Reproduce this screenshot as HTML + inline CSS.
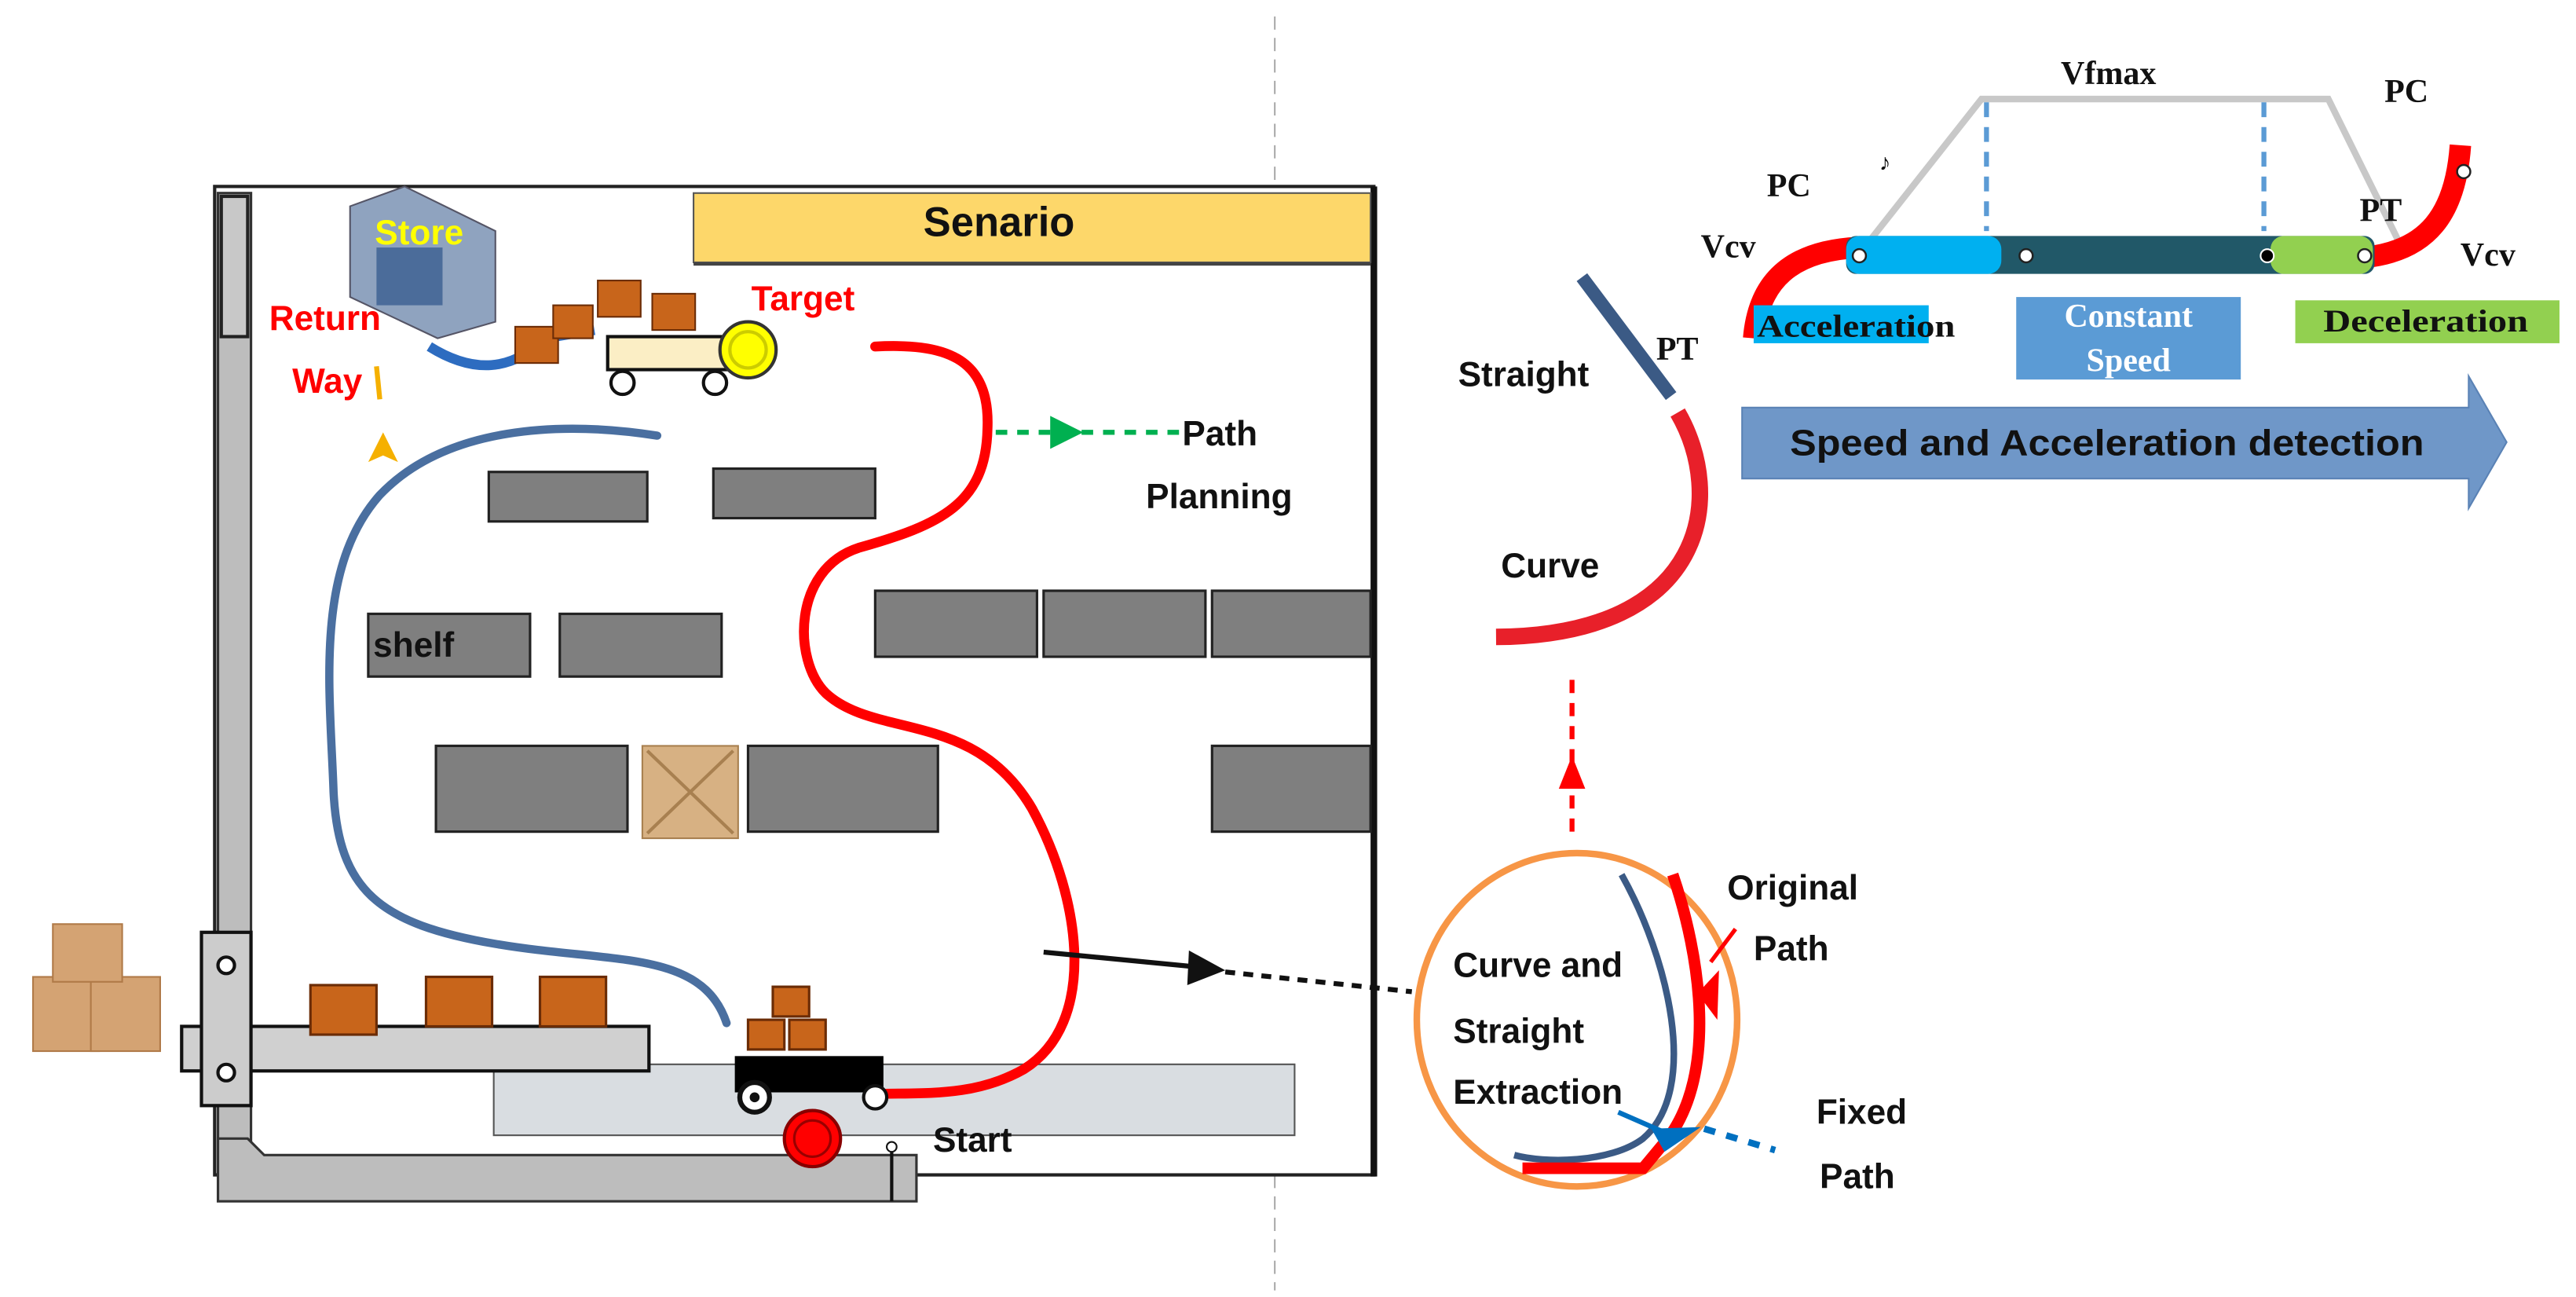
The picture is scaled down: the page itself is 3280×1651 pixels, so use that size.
<!DOCTYPE html>
<html><head><meta charset="utf-8"><style>
html,body{margin:0;padding:0;background:#fff;width:3280px;height:1651px;overflow:hidden}
svg{display:block}
.s{font-family:"Liberation Sans",sans-serif;font-weight:bold}
.t{font-family:"Liberation Serif",serif;font-weight:bold}
</style></head><body>
<svg width="3280" height="1651" viewBox="0 0 1560 786" preserveAspectRatio="none" xmlns="http://www.w3.org/2000/svg">
<defs>
<marker id="ag" markerWidth="6" markerHeight="6" refX="3" refY="3" orient="auto" markerUnits="userSpaceOnUse"><path d="M0,0 L6,3 L0,6z" fill="#00b050"/></marker>
</defs>
<!-- divider -->
<line x1="772" y1="10" x2="772" y2="782" stroke="#aaa" stroke-width="1" stroke-dasharray="8,5"/>
<!-- frame -->
<rect x="130" y="113" width="702" height="599" fill="#fff" stroke="#222" stroke-width="2"/>
<line x1="832" y1="113" x2="832" y2="713" stroke="#111" stroke-width="4"/>
<!-- senario -->
<rect x="420" y="117" width="410" height="42" fill="#fdd76a" stroke="#555" stroke-width="1"/>
<line x1="420" y1="160" x2="830" y2="160" stroke="#444" stroke-width="2"/>
<text x="605" y="143" class="s" font-size="25" text-anchor="middle" fill="#111">Senario</text>
<!-- left grey bar -->
<rect x="132" y="117" width="20" height="585" fill="#bdbdbd" stroke="#333" stroke-width="1.5"/>
<rect x="134" y="119" width="16" height="85" fill="#c8c8c8" stroke="#222" stroke-width="2"/>
<path d="M132,690 L150,690 L160,700 L555,700 L555,728 L132,728 Z" fill="#bdbdbd" stroke="#333" stroke-width="1.5"/>
<!-- conveyor -->
<rect x="299" y="645" width="485" height="43" fill="#d9dde1" stroke="#555" stroke-width="1"/>
<rect x="110" y="622" width="283" height="27" fill="#d0d0d0" stroke="#111" stroke-width="2"/>
<rect x="122" y="565" width="30" height="105" fill="#ccc" stroke="#111" stroke-width="2"/>
<circle cx="137" cy="585" r="5" fill="#fff" stroke="#111" stroke-width="2"/>
<circle cx="137" cy="650" r="5" fill="#fff" stroke="#111" stroke-width="2"/>
<!-- boxes on conveyor -->
<g fill="#c8651b" stroke="#6b2c06" stroke-width="1.5">
<rect x="188" y="597" width="40" height="30"/><rect x="258" y="592" width="40" height="30"/><rect x="327" y="592" width="40" height="30"/>
<rect x="453" y="618" width="22" height="18"/><rect x="478" y="618" width="22" height="18"/><rect x="468" y="598" width="22" height="18"/>
</g>
<!-- left box pile -->
<g fill="#d4a373" stroke="#b07a48" stroke-width="1">
<rect x="20" y="592" width="40" height="45"/><rect x="55" y="592" width="42" height="45"/><rect x="32" y="560" width="42" height="35"/>
</g>
<!-- shelves -->
<g fill="#7f7f7f" stroke="#222" stroke-width="1.5">
<rect x="296" y="286" width="96" height="30"/><rect x="432" y="284" width="98" height="30"/>
<rect x="223" y="372" width="98" height="38"/><rect x="339" y="372" width="98" height="38"/>
<rect x="530" y="358" width="98" height="40"/><rect x="632" y="358" width="98" height="40"/><rect x="734" y="358" width="96" height="40"/>
<rect x="264" y="452" width="116" height="52"/><rect x="453" y="452" width="115" height="52"/><rect x="734" y="452" width="96" height="52"/>
</g>
<text x="226" y="398" class="s" font-size="21" fill="#111">shelf</text>
<rect x="389" y="452" width="58" height="56" fill="#d7b183" stroke="#a88050"/>
<path d="M392,455 L444,505 M444,455 L392,505" stroke="#a88050" stroke-width="2"/>
<!-- store -->
<path d="M212,125 L245,113 L300,140 L300,195 L265,205 L212,180 Z" fill="#8fa3bf" stroke="#556" stroke-width="1"/>
<rect x="228" y="150" width="40" height="35" fill="#4b6c9a"/>
<path d="M260,210 Q300,235 330,205 L360,200" stroke="#2d6cc0" stroke-width="6" fill="none"/>
<g fill="#c8651b" stroke="#6b2c06"><rect x="312" y="198" width="26" height="22"/><rect x="335" y="185" width="24" height="20"/><rect x="362" y="170" width="26" height="22"/><rect x="395" y="178" width="26" height="22"/></g>
<rect x="368" y="204" width="75" height="20" fill="#fbeec5" stroke="#111" stroke-width="2"/>
<circle cx="377" cy="232" r="7" fill="#fff" stroke="#111" stroke-width="2"/><circle cx="433" cy="232" r="7" fill="#fff" stroke="#111" stroke-width="2"/>
<circle cx="453" cy="212" r="17" fill="#ffff00" stroke="#333" stroke-width="2"/><circle cx="453" cy="212" r="11" fill="none" stroke="#cc0" stroke-width="2"/>
<text x="227" y="148" class="s" font-size="21" fill="#ffff00">Store</text>
<text x="163" y="200" class="s" font-size="21" fill="#ff0000">Return</text>
<text x="177" y="238" class="s" font-size="21" fill="#ff0000">Way</text>
<text x="455" y="188" class="s" font-size="21" fill="#ff0000">Target</text>
<path d="M232,262 L223,280 L232,276 L241,280 Z" fill="#f5b000"/>
<path d="M228,222 L230,242" stroke="#f5b000" stroke-width="3"/>
<!-- blue path -->
<path d="M398,264 C340,255 270,258 230,300 C190,345 200,420 202,480 C205,540 230,560 300,572 C370,584 425,575 440,620" stroke="#4a6fa0" stroke-width="5" fill="none" stroke-linecap="round"/>
<!-- red path -->
<path d="M530,210 C570,208 600,215 598,260 C597,305 570,318 520,332 C480,345 480,400 500,420 C530,448 590,430 625,490 C655,545 665,620 620,648 C590,665 560,662 530,663" stroke="#ff0000" stroke-width="6" fill="none" stroke-linecap="round"/>
<!-- cart -->
<rect x="445" y="640" width="90" height="22" fill="#000"/>
<circle cx="457" cy="665" r="9" fill="#fff" stroke="#111" stroke-width="3"/><circle cx="457" cy="665" r="3" fill="#111"/>
<circle cx="530" cy="665" r="7" fill="#fff" stroke="#111" stroke-width="2"/>
<circle cx="492" cy="690" r="17" fill="#ff0000" stroke="#800" stroke-width="2"/><circle cx="492" cy="690" r="11" fill="none" stroke="#900" stroke-width="1.5"/>
<line x1="540" y1="695" x2="540" y2="728" stroke="#111" stroke-width="2"/><circle cx="540" cy="695" r="3" fill="#fff" stroke="#111"/>
<text x="565" y="698" class="s" font-size="21" fill="#111">Start</text>
<!-- green dashed -->
<line x1="603" y1="262" x2="715" y2="262" stroke="#00b050" stroke-width="3" stroke-dasharray="7,6"/>
<path d="M636,252 L656,262 L636,272 Z" fill="#00b050"/>
<text x="716" y="270" class="s" font-size="21" fill="#111">Path</text>
<text x="694" y="308" class="s" font-size="21" fill="#111">Planning</text>
<!-- black arrow -->
<line x1="632" y1="577" x2="725" y2="586" stroke="#111" stroke-width="3"/>
<path d="M720,576 L742,588 L719,597 Z" fill="#111"/>
<line x1="742" y1="589" x2="855" y2="601" stroke="#111" stroke-width="3" stroke-dasharray="6,5"/>
<!-- straight/curve -->
<line x1="958" y1="168" x2="1012" y2="240" stroke="#3b5a85" stroke-width="8"/>
<path d="M1016,250 C1045,300 1035,385 906,386" stroke="#e8202a" stroke-width="10" fill="none"/>
<text x="883" y="234" class="s" font-size="21" fill="#111">Straight</text>
<text x="1003" y="218" class="t" font-size="20" fill="#111">PT</text>
<text x="909" y="350" class="s" font-size="21" fill="#111">Curve</text>
<line x1="952" y1="412" x2="952" y2="508" stroke="#ff0000" stroke-width="3" stroke-dasharray="8,6"/>
<path d="M944,478 L952,458 L960,478 Z" fill="#ff0000"/>
<!-- circle -->
<ellipse cx="955" cy="618" rx="97" ry="101" fill="none" stroke="#f79646" stroke-width="4"/>
<path d="M982,530 C1010,580 1030,660 995,690 C975,705 935,705 917,700" stroke="#3b5a85" stroke-width="4" fill="none"/>
<path d="M1013,530 C1030,580 1040,650 1010,690 L995,708 L922,708" stroke="#ff0000" stroke-width="7" fill="none"/>
<path d="M1028,602 L1041,588 L1040,618 Z" fill="#ff0000"/>
<path d="M1036,583 L1051,563" stroke="#ff0000" stroke-width="2.5"/>
<path d="M1000,684 L1030,683 L1008,698 Z" fill="#0070c0"/>
<path d="M980,674 L1012,688" stroke="#0070c0" stroke-width="3"/>
<line x1="1032" y1="684" x2="1075" y2="697" stroke="#0070c0" stroke-width="4" stroke-dasharray="7,7"/>
<text x="880" y="592" class="s" font-size="21" fill="#111">Curve and</text>
<text x="880" y="632" class="s" font-size="21" fill="#111">Straight</text>
<text x="880" y="669" class="s" font-size="21" fill="#111">Extraction</text>
<text x="1046" y="545" class="s" font-size="21" fill="#111">Original</text>
<text x="1062" y="582" class="s" font-size="21" fill="#111">Path</text>
<text x="1100" y="681" class="s" font-size="21" fill="#111">Fixed</text>
<text x="1102" y="720" class="s" font-size="21" fill="#111">Path</text>
<!-- top-right speed diagram -->
<path d="M1133,145 L1200,60 L1410,60 L1452,145" stroke="#c8c8c8" stroke-width="4" fill="none"/>
<line x1="1203" y1="62" x2="1203" y2="140" stroke="#5b9bd5" stroke-width="3" stroke-dasharray="9,6"/>
<line x1="1371" y1="62" x2="1371" y2="140" stroke="#5b9bd5" stroke-width="3" stroke-dasharray="9,6"/>
<path d="M1062,205 C1065,170 1085,152 1125,150" stroke="#ff0000" stroke-width="13" fill="none"/>
<path d="M1432,156 C1470,152 1487,130 1490,88" stroke="#ff0000" stroke-width="13" fill="none"/>
<rect x="1118" y="143" width="320" height="23" rx="6" fill="#215868"/>
<rect x="1118" y="143" width="94" height="23" rx="8" fill="#00b0f0"/>
<rect x="1375" y="143" width="62" height="23" rx="8" fill="#92d050"/>
<g fill="#fff" stroke="#222" stroke-width="1.2"><circle cx="1126" cy="155" r="4"/><circle cx="1227" cy="155" r="4"/><circle cx="1432" cy="155" r="4"/><circle cx="1492" cy="104" r="4"/></g>
<circle cx="1373" cy="155" r="4" fill="#000" stroke="#fff"/>
<text x="1248" y="51" class="t" font-size="20" fill="#111">Vfmax</text>
<text x="1070" y="119" class="t" font-size="20" fill="#111">PC</text>
<text x="1030" y="156" class="t" font-size="20" fill="#111">Vcv</text>
<text x="1444" y="62" class="t" font-size="20" fill="#111">PC</text>
<text x="1429" y="134" class="t" font-size="20" fill="#111">PT</text>
<text x="1490" y="161" class="t" font-size="20" fill="#111">Vcv</text>
<text x="1138" y="103" class="t" font-size="14" fill="#111">♪</text>
<rect x="1062" y="185" width="106" height="23" fill="#00b0f0"/>
<text x="1064" y="204" class="t" font-size="19" fill="#111" textLength="120" lengthAdjust="spacingAndGlyphs">Acceleration</text>
<rect x="1221" y="180" width="136" height="50" fill="#5b9bd5"/>
<text x="1289" y="198" class="t" font-size="20" fill="#fff" text-anchor="middle">Constant</text>
<text x="1289" y="225" class="t" font-size="20" fill="#fff" text-anchor="middle">Speed</text>
<rect x="1390" y="182" width="160" height="26" fill="#92d050"/>
<text x="1407" y="201" class="t" font-size="19" fill="#111" textLength="124" lengthAdjust="spacingAndGlyphs">Deceleration</text>
<path d="M1055,247 L1495,247 L1495,228 L1518,268 L1495,308 L1495,290 L1055,290 Z" fill="#6f97c8" stroke="#5a82b5" stroke-width="1"/>
<text x="1084" y="276" class="s" font-size="22" fill="#111" textLength="384" lengthAdjust="spacingAndGlyphs">Speed and Acceleration detection</text>
</svg>
</body></html>
